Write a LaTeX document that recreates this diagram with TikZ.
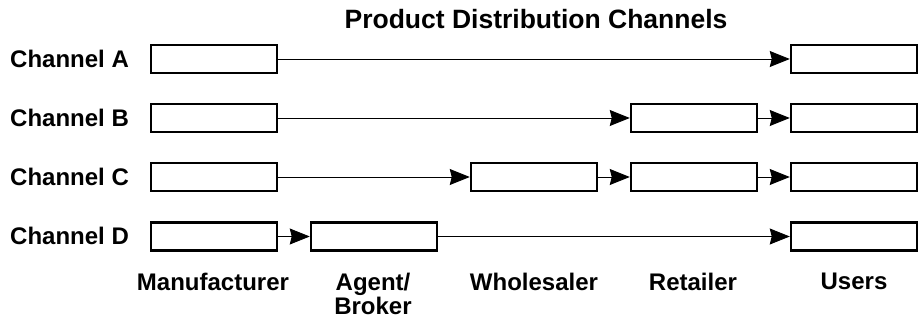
\documentclass[tikz,border=0pt]{standalone}
\usepackage{fontspec}
\setmainfont{Liberation Sans}
\usetikzlibrary{arrows.meta}
\tikzset{
  stage/.style={draw=black, line width=2.5pt, fill=white, minimum width=126pt,
    minimum height=28pt, inner sep=0pt},
  flow/.style={line width=0.9pt, -{Stealth[length=20pt, width=16pt, inset=2pt]}},
  rowlabel/.style={anchor=base west, inner sep=0pt,
    font=\fontsize{24}{24}\selectfont\bfseries},
  collabel/.style={anchor=north, inner sep=0pt, align=center,
    font=\fontsize{24}{24}\selectfont\bfseries},
}
\begin{document}
\begin{tikzpicture}[x=1pt, y=-1pt]
  \useasboundingbox (0,0) rectangle (923,320);

  % title
  \node[anchor=base, inner sep=0pt, font=\fontsize{26.5}{26.5}\selectfont\bfseries]
    (title) at (536,29) {Product Distribution Channels};

  % channel labels
  \node[rowlabel] (la) at (10,67.5) {Channel A};
  \node[rowlabel] (lb) at (10,126.5) {Channel B};
  \node[rowlabel] (lc) at (10,185.5) {Channel C};
  \node[rowlabel] (ld) at (10,245) {Channel D};

  % Channel A: manufacturer -> users
  \node[stage] (ma) at (214,59) {};
  \node[stage] (ua) at (854,59) {};
  \draw[flow] (ma.east) -- (ua.west);

  % Channel B: manufacturer -> retailer -> users
  \node[stage] (mb) at (214,118) {};
  \node[stage] (rb) at (694,118) {};
  \node[stage] (ub) at (854,118) {};
  \draw[flow] (mb.east) -- (rb.west);
  \draw[flow] (rb.east) -- (ub.west);

  % Channel C: manufacturer -> wholesaler -> retailer -> users
  \node[stage] (mc) at (214,177) {};
  \node[stage] (wc) at (534,177) {};
  \node[stage] (rc) at (694,177) {};
  \node[stage] (uc) at (854,177) {};
  \draw[flow] (mc.east) -- (wc.west);
  \draw[flow] (wc.east) -- (rc.west);
  \draw[flow] (rc.east) -- (uc.west);

  % Channel D: manufacturer -> agent/broker -> users
  \node[stage] (md) at (214,236.5) {};
  \node[stage] (ad) at (374,236.5) {};
  \node[stage] (ud) at (854,236.5) {};
  \draw[flow] (md.east) -- (ad.west);
  \draw[flow] (ad.east) -- (ud.west);

  % column labels
  \node[collabel] (cm) at (213,273) {Manufacturer};
  \node[collabel] (ca) at (373,273) {Agent/\\Broker};
  \node[collabel] (cw) at (534,273) {Wholesaler};
  \node[collabel] (cr) at (693,273) {Retailer};
  \node[collabel] (cu) at (854,273) {Users};
\end{tikzpicture}
\end{document}
